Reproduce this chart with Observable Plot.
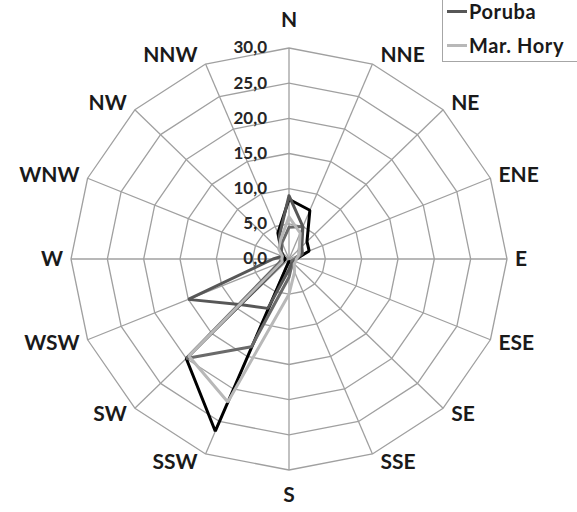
<!DOCTYPE html>
<html>
<head>
<meta charset="utf-8">
<script src="https://cdn.jsdelivr.net/npm/d3@7"></script>
<script src="https://cdn.jsdelivr.net/npm/@observablehq/plot@0.6"></script>
<style>
  html, body { margin: 0; padding: 0; background: #fff; }
  #wrap { position: relative; width: 577px; height: 512px; overflow: hidden; }
  #legend { position: absolute; left: 442px; top: -80px; width: 200px; height: 142px;
            border: 1.5px solid #a6a6a6; background: #fff; box-sizing: border-box; }
  .row { position: absolute; left: 4px; height: 22px; display: flex; align-items: center;
         font: bold 20px Lato, "Open Sans", sans-serif; letter-spacing: 0.6px; color: #1a1a1a; }
  .sw { width: 20px; height: 3px; margin-right: 2px; }
  svg text.dir { letter-spacing: 1px; }
  svg text.tick { letter-spacing: 0.6px; }
</style>
</head>
<body>
<div id="wrap"></div>
<script>
// wind directions, clockwise from north
const directions = ["N","NNE","NE","ENE","E","ESE","SE","SSE","S","SSW","SW","WSW","W","WNW","NW","NNW"];
const ringTicks = [0, 5, 10, 15, 20, 25, 30];
const tickLabels = ["0,0", "5,0", "10,0", "15,0", "20,0", "25,0", "30,0"];

// frequency (%) per direction for each station
const station1 = [8.5, 7.5, 3.5, 3.0, 1.0, 0.8, 0.8, 0.5, 0.3, 26.5, 20.0, 0.8, 0.5, 0.8, 1.5, 4.0];
const station2 = [4.5, 5.0, 2.0, 1.5, 0.8, 0.5, 0.5, 1.0, 2.6, 13.5, 20.0, 1.5, 1.0, 1.0, 1.5, 2.5];
const poruba   = [9.0, 5.0, 2.5, 2.0, 1.0, 0.8, 0.8, 0.8, 1.5, 7.6, 9.2, 15.0, 2.2, 1.0, 1.5, 3.5];
const marHory  = [6.0, 4.0, 2.0, 1.5, 1.0, 1.0, 1.0, 2.0, 5.0, 22.0, 19.5, 1.0, 1.0, 1.0, 2.0, 3.0];

const seriesNames  = ["station1", "station2", "Poruba", "Mar. Hory"];
const seriesValues = [station1, station2, poruba, marHory];
const seriesColors = ["#000000", "#6a6a6a", "#575757", "#b8b8b8"];
const legendNames  = [null, null, "Poruba", "Mar. Hory"];

const rMax = 30;
const W = 577, H = 512;
const xRange = [70.5, 506.5], yRange = [469.5, 47.5];
const pxX = (xRange[1] - xRange[0]) / (2 * rMax);
const pxY = (yRange[0] - yRange[1]) / (2 * rMax);

const angle = i => i * 2 * Math.PI / directions.length;
const polar = (r, i) => ({x: r * Math.sin(angle(i)), y: r * Math.cos(angle(i))});

// grid rings (16-sided polygons) and spokes
const rings = ringTicks.filter(t => t > 0).flatMap(t =>
  d3.range(directions.length + 1).map(i => ({ring: t, ...polar(t, i % directions.length)})));
const spokes = directions.map((d, i) => ({...polar(rMax, i)}));

// closed series outlines
const lines = seriesNames.flatMap((name, s) =>
  d3.range(directions.length + 1).map(i => {
    const k = i % directions.length;
    return {series: name, ...polar(seriesValues[s][k], k)};
  }));

// direction labels just outside the outer ring
const dirLabels = directions.map((d, i) => {
  const a = angle(i), s = Math.sin(a), c = Math.cos(a);
  const side = Math.abs(s) < 0.1 ? "mid" : (s > 0 ? "east" : "west");
  const offX = side === "mid" ? 0 : (s > 0 ? 8 : -8);
  const offY = side === "mid" ? (c > 0 ? 28 : -25) : 9 * c;
  return {label: d, side, x: rMax * s + offX / pxX, y: rMax * c + offY / pxY};
});

const tickData = ringTicks.map((t, i) => ({t, label: tickLabels[i]}));

const font = "Lato, 'Open Sans', sans-serif";
const dirText = side => Plot.text(dirLabels.filter(d => d.side === side), {
  x: "x", y: "y", text: "label", className: "dir",
  textAnchor: side === "east" ? "start" : side === "west" ? "end" : "middle",
  fontSize: 21, fontWeight: "bold", fill: "#1a1a1a", fontFamily: font
});

const chart = Plot.plot({
  width: W, height: H, margin: 0,
  x: {domain: [-rMax, rMax], range: xRange, axis: null},
  y: {domain: [-rMax, rMax], range: yRange, axis: null},
  color: {domain: seriesNames, range: seriesColors},
  style: {fontFamily: font, background: "#fff"},
  marks: [
    Plot.line(rings, {x: "x", y: "y", z: "ring", stroke: "#a0a0a0", strokeWidth: 1.3}),
    Plot.link(spokes, {x1: 0, y1: 0, x2: "x", y2: "y", stroke: "#a0a0a0", strokeWidth: 1.3}),
    Plot.line(lines, {x: "x", y: "y", z: "series", stroke: "series", strokeWidth: 3,
      strokeLinejoin: "miter", sort: null}),
    Plot.text(tickData, {x: 0, y: "t", text: "label", textAnchor: "end", dx: -22, className: "tick",
      fontSize: 17, fontWeight: "bold", fill: "#262626", fontFamily: font}),
    dirText("east"), dirText("west"), dirText("mid")
  ]
});

const wrap = document.getElementById("wrap");
wrap.appendChild(chart);

// legend box (extends above the top edge)
const legend = document.createElement("div");
legend.id = "legend";
const rowCenters = [-59, -25, 10, 44];
seriesNames.forEach((name, s) => {
  if (!legendNames[s]) return;
  const row = document.createElement("div");
  row.className = "row";
  row.style.top = (rowCenters[s] + 80 - 11) + "px";
  const sw = document.createElement("span");
  sw.className = "sw";
  sw.style.background = seriesColors[s];
  row.appendChild(sw);
  row.appendChild(document.createTextNode(legendNames[s]));
  legend.appendChild(row);
});
wrap.appendChild(legend);
</script>
</body>
</html>
